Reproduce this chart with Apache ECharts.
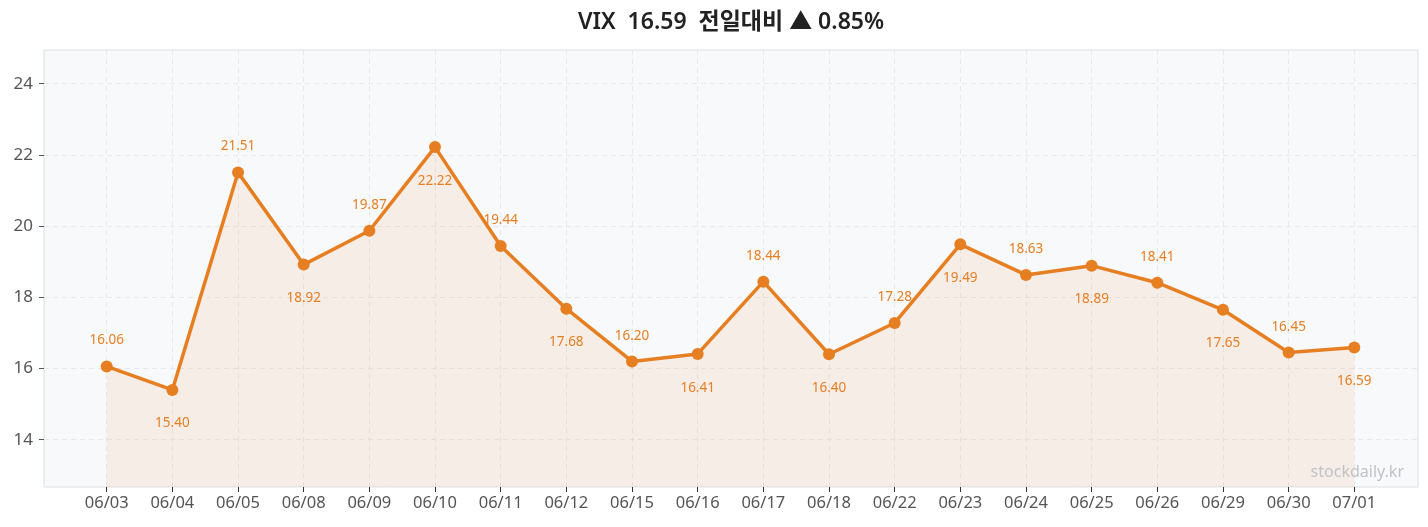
<!DOCTYPE html>
<html>
<head>
<meta charset="utf-8">
<script src="https://cdn.jsdelivr.net/npm/echarts@6/dist/echarts.min.js"></script>
<style>
html,body{margin:0;padding:0;background:#fff;}
#c{width:1428px;height:527px;}
</style>
</head>
<body>
<div id="c"></div>
<script>
const categories = ["06/03","06/04","06/05","06/08","06/09","06/10","06/11","06/12","06/15","06/16","06/17","06/18","06/22","06/23","06/24","06/25","06/26","06/29","06/30","07/01"];
const vixValues = [16.06,15.40,21.51,18.92,19.87,22.22,19.44,17.68,16.20,16.41,18.44,16.40,17.28,19.49,18.63,18.89,18.41,17.65,16.45,16.59];
const yTickValues = [14,16,18,20,22,24];
const symbolName = "VIX";
const watermark = "stockdaily.kr";

const last = vixValues[vixValues.length-1];
const prev = vixValues[vixValues.length-2];
const chg = (last - prev) / prev * 100;
const titleText = symbolName + "  " + last.toFixed(2) + "  전일대비 " + (chg >= 0 ? "▲" : "▼") + " " + Math.abs(chg).toFixed(2) + "%";

const dMin = Math.min(...vixValues), dMax = Math.max(...vixValues);
const pad = (dMax - dMin) * 0.4;
const yMin = dMin - pad, yMax = dMax + pad;

const ORANGE = "#e67e22";
const FONT = "'Noto Sans', 'Noto Sans CJK KR', sans-serif";

const seriesData = vixValues.map((v, i) => ({
  value: v,
  label: i % 2 === 0 ? { position: "top", distance: 13 } : { position: "bottom", distance: 21 }
}));

const chart = echarts.init(document.getElementById("c"), null, { renderer: "canvas" });
chart.setOption({
  animation: false,
  backgroundColor: "#ffffff",
  textStyle: { fontFamily: FONT },
  title: {
    text: titleText,
    left: 731,
    textAlign: "center",
    top: 11,
    padding: 0,
    textStyle: { fontFamily: FONT, fontSize: 23, fontWeight: 600, color: "#222222" }
  },
  graphic: [{
    type: "text",
    right: 24,
    bottom: 47,
    style: { text: watermark, fontFamily: FONT, fontSize: 16, fill: "#bfc3c8" },
    z: 10
  }],
  grid: [
    { left: 44, right: 10, top: 50, bottom: 40, show: true, backgroundColor: "#f8f9fb", borderColor: "#dcdfe4", borderWidth: 1 },
    { left: 106.7, right: 73.7, top: 50, bottom: 40 }
  ],
  xAxis: [
    { gridIndex: 0, type: "value", min: 0, max: 1, show: false },
    {
      gridIndex: 1, type: "category", data: categories, boundaryGap: false,
      axisLine: { show: false },
      axisTick: { show: true, length: 5, lineStyle: { color: "#333" } },
      axisLabel: { color: "#555", fontSize: 16.5, margin: 8, fontFamily: FONT },
      splitLine: { show: true, lineStyle: { color: "#e6e8eb", type: [5, 4], width: 1 } }
    }
  ],
  yAxis: [
    {
      gridIndex: 0, type: "value", min: yMin, max: yMax,
      axisLine: { show: false },
      axisTick: { show: true, length: 5, customValues: yTickValues, lineStyle: { color: "#555" } },
      axisLabel: { color: "#555", fontSize: 17, margin: 11, customValues: yTickValues, fontFamily: FONT },
      splitLine: { show: true, lineStyle: { color: "#e6e8eb", type: [5, 4], width: 1 } }
    },
    { gridIndex: 1, type: "value", min: yMin, max: yMax, show: false, splitLine: { show: false } }
  ],
  series: [{
    type: "line",
    xAxisIndex: 1,
    yAxisIndex: 1,
    data: seriesData,
    symbol: "circle",
    symbolSize: 12,
    lineStyle: { color: ORANGE, width: 3.5 },
    itemStyle: { color: ORANGE },
    areaStyle: { color: "rgba(230,126,34,0.13)" },
    label: {
      show: true,
      color: ORANGE,
      fontSize: 13.5,
      fontFamily: FONT,
      formatter: p => Number(p.value).toFixed(2)
    },
    z: 5
  }]
});
</script>
</body>
</html>
